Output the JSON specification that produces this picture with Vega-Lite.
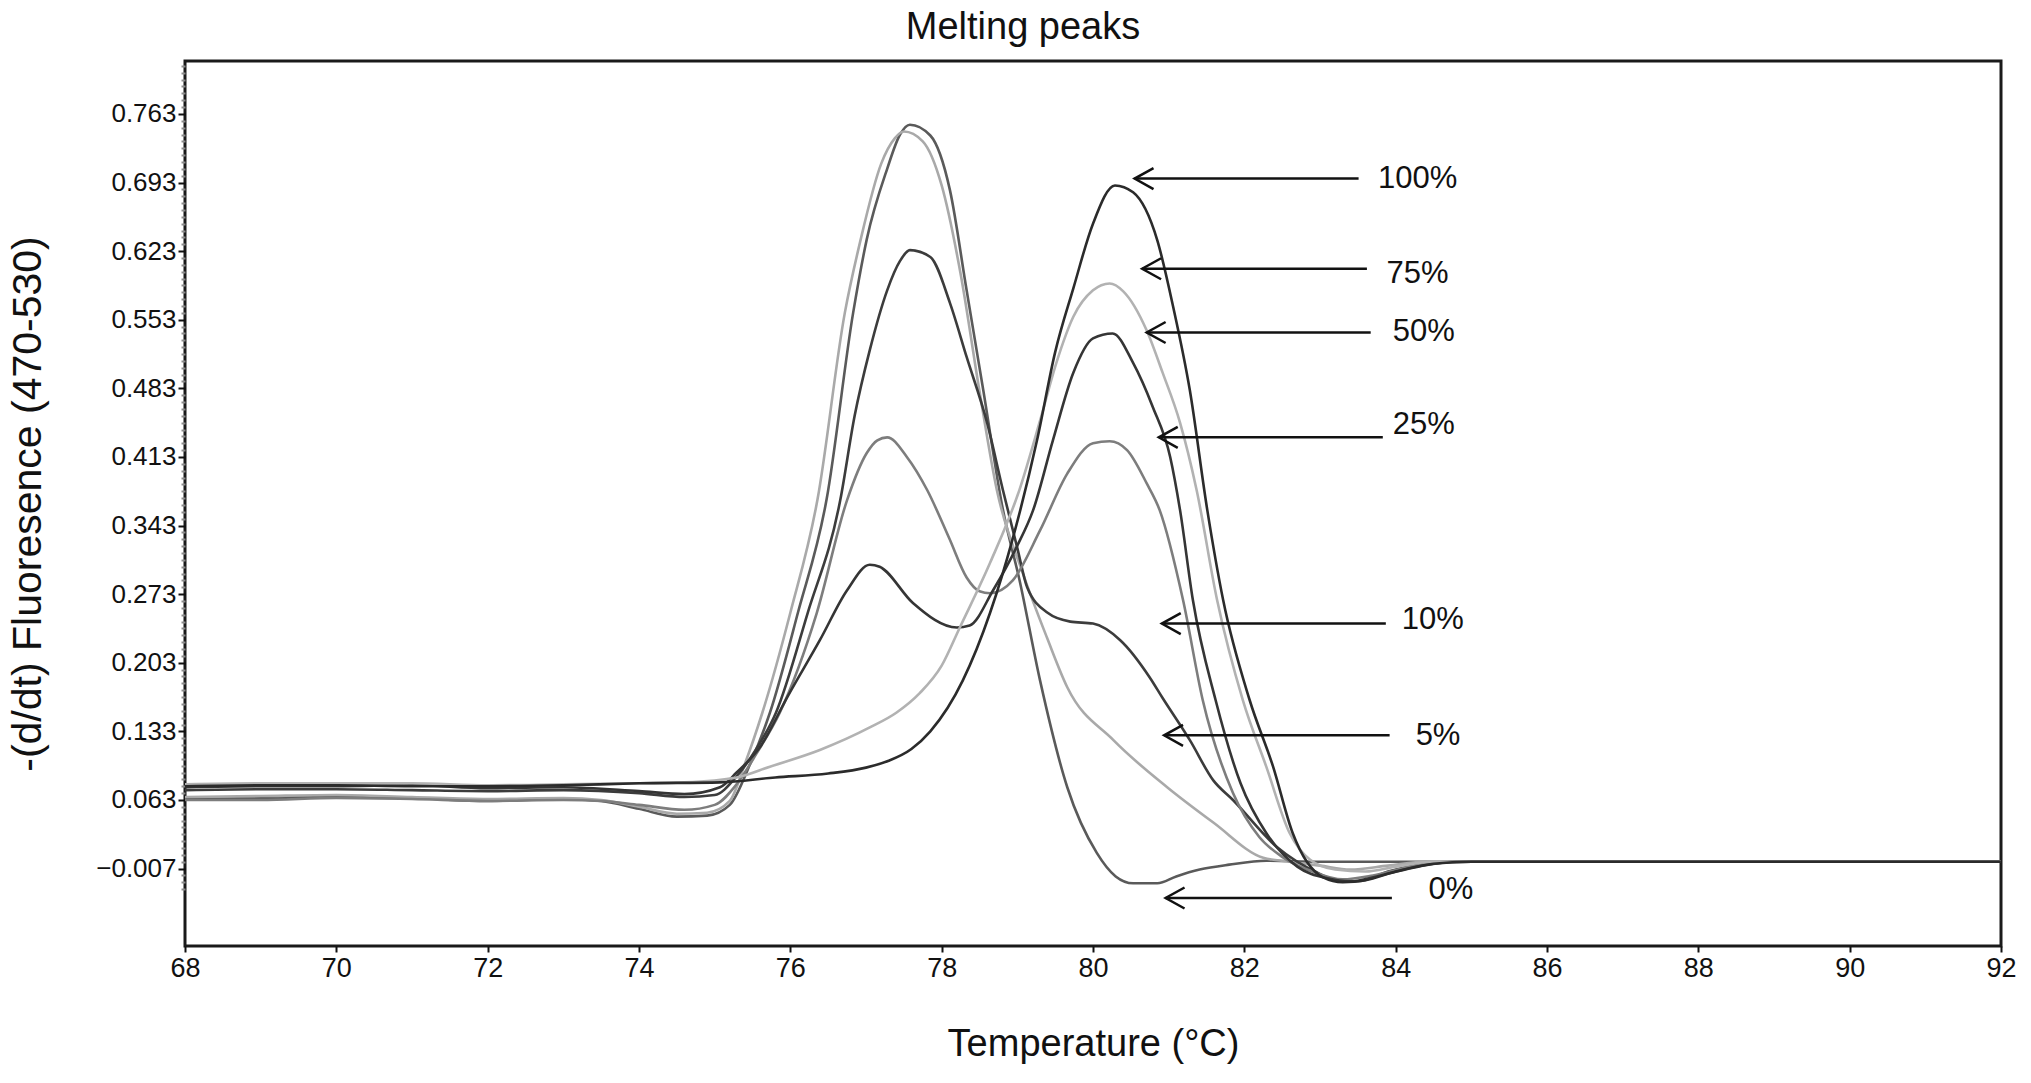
{
  "$schema": "https://vega.github.io/schema/vega-lite/v6.json",
  "width": 1816,
  "height": 885,
  "autosize": {"type": "none"},
  "padding": {"left": 185, "top": 61, "right": 30, "bottom": 137},
  "background": "white",
  "title": {
    "text": "Melting peaks",
    "font": "Liberation Sans",
    "fontSize": 38,
    "fontWeight": "normal",
    "color": "#111",
    "anchor": "middle",
    "dx": -70,
    "baseline": "middle",
    "offset": -5
  },
  "config": {
    "view": {"stroke": "#1a1a1a", "strokeWidth": 3},
    "font": "Liberation Sans"
  },
  "resolve": {"axis": {"y": "independent"}, "scale": {"y": "shared", "x": "shared"}},
  "datasets": {
    "curves": [
      {"s": "0%", "t": 68, "v": 0.064}, {"s": "0%", "t": 69, "v": 0.065}, {"s": "0%", "t": 70, "v": 0.066}, {"s": "0%", "t": 71, "v": 0.065},
      {"s": "0%", "t": 72, "v": 0.062}, {"s": "0%", "t": 73, "v": 0.064}, {"s": "0%", "t": 73.5, "v": 0.062}, {"s": "0%", "t": 74, "v": 0.054},
      {"s": "0%", "t": 74.5, "v": 0.046}, {"s": "0%", "t": 74.9, "v": 0.047}, {"s": "0%", "t": 75.2, "v": 0.058}, {"s": "0%", "t": 75.47, "v": 0.1},
      {"s": "0%", "t": 75.73, "v": 0.152}, {"s": "0%", "t": 76.1, "v": 0.254}, {"s": "0%", "t": 76.48, "v": 0.37}, {"s": "0%", "t": 76.83, "v": 0.56},
      {"s": "0%", "t": 77.01, "v": 0.635}, {"s": "0%", "t": 77.28, "v": 0.707}, {"s": "0%", "t": 77.45, "v": 0.742}, {"s": "0%", "t": 77.58, "v": 0.752},
      {"s": "0%", "t": 77.85, "v": 0.741}, {"s": "0%", "t": 78.11, "v": 0.685}, {"s": "0%", "t": 78.33, "v": 0.583}, {"s": "0%", "t": 78.55, "v": 0.481},
      {"s": "0%", "t": 78.81, "v": 0.359}, {"s": "0%", "t": 79.03, "v": 0.287}, {"s": "0%", "t": 79.3, "v": 0.185}, {"s": "0%", "t": 79.66, "v": 0.076},
      {"s": "0%", "t": 80.05, "v": 0.009}, {"s": "0%", "t": 80.3, "v": -0.015}, {"s": "0%", "t": 80.53, "v": -0.022}, {"s": "0%", "t": 80.85, "v": -0.022},
      {"s": "0%", "t": 81.1, "v": -0.015}, {"s": "0%", "t": 81.41, "v": -0.008}, {"s": "0%", "t": 81.8, "v": -0.003}, {"s": "0%", "t": 82.29, "v": 0.001},
      {"s": "0%", "t": 83, "v": 0.0}, {"s": "0%", "t": 84, "v": 0.0}, {"s": "0%", "t": 86, "v": 0.0}, {"s": "0%", "t": 88, "v": 0.0},
      {"s": "0%", "t": 90, "v": 0.0}, {"s": "0%", "t": 92, "v": 0.0},

      {"s": "5%", "t": 68, "v": 0.066}, {"s": "5%", "t": 69, "v": 0.067}, {"s": "5%", "t": 70, "v": 0.068}, {"s": "5%", "t": 71, "v": 0.066},
      {"s": "5%", "t": 72, "v": 0.064}, {"s": "5%", "t": 73, "v": 0.065}, {"s": "5%", "t": 73.5, "v": 0.063}, {"s": "5%", "t": 74, "v": 0.056},
      {"s": "5%", "t": 74.5, "v": 0.049}, {"s": "5%", "t": 74.9, "v": 0.05}, {"s": "5%", "t": 75.2, "v": 0.062}, {"s": "5%", "t": 75.4, "v": 0.1},
      {"s": "5%", "t": 75.63, "v": 0.152}, {"s": "5%", "t": 76.0, "v": 0.254}, {"s": "5%", "t": 76.36, "v": 0.37}, {"s": "5%", "t": 76.72, "v": 0.56},
      {"s": "5%", "t": 76.93, "v": 0.635}, {"s": "5%", "t": 77.2, "v": 0.712}, {"s": "5%", "t": 77.38, "v": 0.738}, {"s": "5%", "t": 77.5, "v": 0.745},
      {"s": "5%", "t": 77.75, "v": 0.735}, {"s": "5%", "t": 78.0, "v": 0.69}, {"s": "5%", "t": 78.25, "v": 0.6}, {"s": "5%", "t": 78.5, "v": 0.48},
      {"s": "5%", "t": 78.73, "v": 0.379}, {"s": "5%", "t": 79.07, "v": 0.295}, {"s": "5%", "t": 79.39, "v": 0.229}, {"s": "5%", "t": 79.66, "v": 0.178},
      {"s": "5%", "t": 80.27, "v": 0.124}, {"s": "5%", "t": 80.98, "v": 0.076}, {"s": "5%", "t": 81.59, "v": 0.04}, {"s": "5%", "t": 82.25, "v": 0.004},
      {"s": "5%", "t": 82.6, "v": 0.0}, {"s": "5%", "t": 83, "v": -0.004}, {"s": "5%", "t": 83.4, "v": -0.008}, {"s": "5%", "t": 83.9, "v": -0.004},
      {"s": "5%", "t": 84.4, "v": 0.0}, {"s": "5%", "t": 86, "v": 0.0}, {"s": "5%", "t": 92, "v": 0.0},

      {"s": "10%", "t": 68, "v": 0.073}, {"s": "10%", "t": 69, "v": 0.074}, {"s": "10%", "t": 70, "v": 0.074}, {"s": "10%", "t": 71, "v": 0.073},
      {"s": "10%", "t": 72, "v": 0.072}, {"s": "10%", "t": 73, "v": 0.073}, {"s": "10%", "t": 74, "v": 0.07}, {"s": "10%", "t": 74.6, "v": 0.066},
      {"s": "10%", "t": 75.0, "v": 0.068}, {"s": "10%", "t": 75.3, "v": 0.088}, {"s": "10%", "t": 75.55, "v": 0.115}, {"s": "10%", "t": 75.81, "v": 0.152},
      {"s": "10%", "t": 76.23, "v": 0.254}, {"s": "10%", "t": 76.66, "v": 0.369}, {"s": "10%", "t": 76.85, "v": 0.455}, {"s": "10%", "t": 77.05, "v": 0.522},
      {"s": "10%", "t": 77.28, "v": 0.583}, {"s": "10%", "t": 77.45, "v": 0.613}, {"s": "10%", "t": 77.58, "v": 0.624}, {"s": "10%", "t": 77.85, "v": 0.617},
      {"s": "10%", "t": 78.11, "v": 0.57}, {"s": "10%", "t": 78.33, "v": 0.515}, {"s": "10%", "t": 78.6, "v": 0.448}, {"s": "10%", "t": 78.81, "v": 0.379},
      {"s": "10%", "t": 79.0, "v": 0.32}, {"s": "10%", "t": 79.13, "v": 0.28}, {"s": "10%", "t": 79.4, "v": 0.254}, {"s": "10%", "t": 79.7, "v": 0.245},
      {"s": "10%", "t": 80.0, "v": 0.243}, {"s": "10%", "t": 80.36, "v": 0.226}, {"s": "10%", "t": 80.75, "v": 0.188}, {"s": "10%", "t": 80.92, "v": 0.167},
      {"s": "10%", "t": 81.28, "v": 0.124}, {"s": "10%", "t": 81.59, "v": 0.083}, {"s": "10%", "t": 81.85, "v": 0.063}, {"s": "10%", "t": 82.43, "v": 0.015},
      {"s": "10%", "t": 82.96, "v": -0.011}, {"s": "10%", "t": 83.22, "v": -0.019}, {"s": "10%", "t": 83.5, "v": -0.02}, {"s": "10%", "t": 83.9, "v": -0.01},
      {"s": "10%", "t": 84.4, "v": -0.002}, {"s": "10%", "t": 85, "v": 0.0}, {"s": "10%", "t": 92, "v": 0.0},

      {"s": "25%", "t": 68, "v": 0.063}, {"s": "25%", "t": 69, "v": 0.063}, {"s": "25%", "t": 70, "v": 0.065}, {"s": "25%", "t": 71, "v": 0.064},
      {"s": "25%", "t": 72, "v": 0.062}, {"s": "25%", "t": 73, "v": 0.063}, {"s": "25%", "t": 73.5, "v": 0.062}, {"s": "25%", "t": 74, "v": 0.058},
      {"s": "25%", "t": 74.6, "v": 0.053}, {"s": "25%", "t": 75.0, "v": 0.058}, {"s": "25%", "t": 75.3, "v": 0.08}, {"s": "25%", "t": 75.55, "v": 0.11},
      {"s": "25%", "t": 75.86, "v": 0.152}, {"s": "25%", "t": 76.35, "v": 0.254}, {"s": "25%", "t": 76.75, "v": 0.369}, {"s": "25%", "t": 77.01, "v": 0.417},
      {"s": "25%", "t": 77.15, "v": 0.43}, {"s": "25%", "t": 77.28, "v": 0.433}, {"s": "25%", "t": 77.54, "v": 0.413}, {"s": "25%", "t": 77.81, "v": 0.379},
      {"s": "25%", "t": 78.1, "v": 0.33}, {"s": "25%", "t": 78.33, "v": 0.29}, {"s": "25%", "t": 78.5, "v": 0.276}, {"s": "25%", "t": 78.64, "v": 0.274},
      {"s": "25%", "t": 78.94, "v": 0.287}, {"s": "25%", "t": 79.3, "v": 0.338}, {"s": "25%", "t": 79.66, "v": 0.396}, {"s": "25%", "t": 80.0, "v": 0.427},
      {"s": "25%", "t": 80.22, "v": 0.429}, {"s": "25%", "t": 80.45, "v": 0.42}, {"s": "25%", "t": 80.71, "v": 0.386}, {"s": "25%", "t": 80.88, "v": 0.359},
      {"s": "25%", "t": 81.19, "v": 0.267}, {"s": "25%", "t": 81.45, "v": 0.165}, {"s": "25%", "t": 81.85, "v": 0.07}, {"s": "25%", "t": 82.2, "v": 0.025},
      {"s": "25%", "t": 82.5, "v": 0.005}, {"s": "25%", "t": 82.9, "v": -0.01}, {"s": "25%", "t": 83.3, "v": -0.018}, {"s": "25%", "t": 83.7, "v": -0.014},
      {"s": "25%", "t": 84.2, "v": -0.005}, {"s": "25%", "t": 84.7, "v": 0.0}, {"s": "25%", "t": 92, "v": 0.0},

      {"s": "50%", "t": 68, "v": 0.076}, {"s": "50%", "t": 69, "v": 0.077}, {"s": "50%", "t": 70, "v": 0.077}, {"s": "50%", "t": 71, "v": 0.078},
      {"s": "50%", "t": 72, "v": 0.075}, {"s": "50%", "t": 73, "v": 0.076}, {"s": "50%", "t": 74, "v": 0.072}, {"s": "50%", "t": 74.6, "v": 0.069},
      {"s": "50%", "t": 75.07, "v": 0.076}, {"s": "50%", "t": 75.29, "v": 0.091}, {"s": "50%", "t": 75.6, "v": 0.117}, {"s": "50%", "t": 75.96, "v": 0.168},
      {"s": "50%", "t": 76.39, "v": 0.226}, {"s": "50%", "t": 76.75, "v": 0.277}, {"s": "50%", "t": 77.05, "v": 0.303}, {"s": "50%", "t": 77.18, "v": 0.301},
      {"s": "50%", "t": 77.62, "v": 0.264}, {"s": "50%", "t": 78.2, "v": 0.239}, {"s": "50%", "t": 78.37, "v": 0.241}, {"s": "50%", "t": 78.68, "v": 0.277},
      {"s": "50%", "t": 78.99, "v": 0.321}, {"s": "50%", "t": 79.21, "v": 0.359}, {"s": "50%", "t": 79.47, "v": 0.43}, {"s": "50%", "t": 79.74, "v": 0.499},
      {"s": "50%", "t": 80.0, "v": 0.534}, {"s": "50%", "t": 80.26, "v": 0.539}, {"s": "50%", "t": 80.53, "v": 0.509}, {"s": "50%", "t": 80.79, "v": 0.464},
      {"s": "50%", "t": 81.02, "v": 0.413}, {"s": "50%", "t": 81.15, "v": 0.359}, {"s": "50%", "t": 81.32, "v": 0.267}, {"s": "50%", "t": 81.62, "v": 0.165},
      {"s": "50%", "t": 81.95, "v": 0.08}, {"s": "50%", "t": 82.3, "v": 0.028}, {"s": "50%", "t": 82.7, "v": -0.005}, {"s": "50%", "t": 83.1, "v": -0.017},
      {"s": "50%", "t": 83.4, "v": -0.02}, {"s": "50%", "t": 83.8, "v": -0.014}, {"s": "50%", "t": 84.3, "v": -0.005}, {"s": "50%", "t": 84.8, "v": 0.0},
      {"s": "50%", "t": 92, "v": 0.0},

      {"s": "75%", "t": 68, "v": 0.079}, {"s": "75%", "t": 69, "v": 0.08}, {"s": "75%", "t": 70, "v": 0.08}, {"s": "75%", "t": 71, "v": 0.08},
      {"s": "75%", "t": 72, "v": 0.078}, {"s": "75%", "t": 73, "v": 0.079}, {"s": "75%", "t": 74, "v": 0.08}, {"s": "75%", "t": 74.6, "v": 0.081},
      {"s": "75%", "t": 75.29, "v": 0.086}, {"s": "75%", "t": 75.73, "v": 0.097}, {"s": "75%", "t": 76.39, "v": 0.114}, {"s": "75%", "t": 77.05, "v": 0.137},
      {"s": "75%", "t": 77.4, "v": 0.152}, {"s": "75%", "t": 77.71, "v": 0.172}, {"s": "75%", "t": 78.0, "v": 0.2}, {"s": "75%", "t": 78.24, "v": 0.239},
      {"s": "75%", "t": 78.64, "v": 0.305}, {"s": "75%", "t": 79.03, "v": 0.38}, {"s": "75%", "t": 79.3, "v": 0.45}, {"s": "75%", "t": 79.52, "v": 0.51},
      {"s": "75%", "t": 79.74, "v": 0.556}, {"s": "75%", "t": 80.0, "v": 0.583}, {"s": "75%", "t": 80.22, "v": 0.59}, {"s": "75%", "t": 80.4, "v": 0.582},
      {"s": "75%", "t": 80.71, "v": 0.542}, {"s": "75%", "t": 80.92, "v": 0.499}, {"s": "75%", "t": 81.15, "v": 0.448}, {"s": "75%", "t": 81.37, "v": 0.379},
      {"s": "75%", "t": 81.64, "v": 0.267}, {"s": "75%", "t": 81.98, "v": 0.165}, {"s": "75%", "t": 82.29, "v": 0.097}, {"s": "75%", "t": 82.6, "v": 0.029},
      {"s": "75%", "t": 82.87, "v": 0.002}, {"s": "75%", "t": 83.2, "v": -0.008}, {"s": "75%", "t": 83.6, "v": -0.01}, {"s": "75%", "t": 84.0, "v": -0.005},
      {"s": "75%", "t": 84.5, "v": 0.0}, {"s": "75%", "t": 92, "v": 0.0},

      {"s": "100%", "t": 68, "v": 0.077}, {"s": "100%", "t": 69, "v": 0.078}, {"s": "100%", "t": 70, "v": 0.078}, {"s": "100%", "t": 71, "v": 0.077},
      {"s": "100%", "t": 72, "v": 0.077}, {"s": "100%", "t": 73, "v": 0.078}, {"s": "100%", "t": 74, "v": 0.08}, {"s": "100%", "t": 75.07, "v": 0.081},
      {"s": "100%", "t": 75.8, "v": 0.086}, {"s": "100%", "t": 76.5, "v": 0.09}, {"s": "100%", "t": 77.0, "v": 0.096}, {"s": "100%", "t": 77.3, "v": 0.103},
      {"s": "100%", "t": 77.6, "v": 0.115}, {"s": "100%", "t": 77.85, "v": 0.133}, {"s": "100%", "t": 78.28, "v": 0.185}, {"s": "100%", "t": 78.64, "v": 0.254},
      {"s": "100%", "t": 78.94, "v": 0.33}, {"s": "100%", "t": 79.26, "v": 0.43}, {"s": "100%", "t": 79.5, "v": 0.52}, {"s": "100%", "t": 79.74, "v": 0.585},
      {"s": "100%", "t": 80.0, "v": 0.651}, {"s": "100%", "t": 80.29, "v": 0.69}, {"s": "100%", "t": 80.53, "v": 0.683}, {"s": "100%", "t": 80.85, "v": 0.634},
      {"s": "100%", "t": 81.06, "v": 0.566}, {"s": "100%", "t": 81.28, "v": 0.481}, {"s": "100%", "t": 81.51, "v": 0.359}, {"s": "100%", "t": 81.72, "v": 0.267},
      {"s": "100%", "t": 82.07, "v": 0.165}, {"s": "100%", "t": 82.38, "v": 0.097}, {"s": "100%", "t": 82.64, "v": 0.029}, {"s": "100%", "t": 83.04, "v": -0.016},
      {"s": "100%", "t": 83.3, "v": -0.021}, {"s": "100%", "t": 83.6, "v": -0.019}, {"s": "100%", "t": 84.0, "v": -0.01}, {"s": "100%", "t": 84.5, "v": -0.002},
      {"s": "100%", "t": 85, "v": 0.0}, {"s": "100%", "t": 92, "v": 0.0}
    ],
    "arrows": [
      {"label": "100%", "tip": 80.55, "end": 83.51, "ay": 0.697, "lx": 84.29, "ly": 0.697},
      {"label": "75%", "tip": 80.65, "end": 83.62, "ay": 0.605, "lx": 84.29, "ly": 0.6},
      {"label": "50%", "tip": 80.71, "end": 83.67, "ay": 0.54, "lx": 84.37, "ly": 0.54},
      {"label": "25%", "tip": 80.87, "end": 83.83, "ay": 0.433, "lx": 84.37, "ly": 0.446},
      {"label": "10%", "tip": 80.91, "end": 83.87, "ay": 0.243, "lx": 84.49, "ly": 0.247},
      {"label": "5%", "tip": 80.94, "end": 83.92, "ay": 0.129, "lx": 84.56, "ly": 0.128},
      {"label": "0%", "tip": 80.96, "end": 83.95, "ay": -0.037, "lx": 84.73, "ly": -0.029}
    ]
  },
  "layer": [
    {
      "data": {"name": "curves"},
      "mark": {"type": "line", "strokeWidth": 2.6, "interpolate": "monotone"},
      "encoding": {
        "x": {
          "field": "t",
          "type": "quantitative",
          "scale": {"domain": [68, 92], "nice": false, "zero": false},
          "axis": {
            "title": "Temperature (°C)",
            "values": [68, 70, 72, 74, 76, 78, 80, 82, 84, 86, 88, 90, 92],
            "format": "d",
            "domain": false,
            "grid": false,
            "tickSize": 6,
            "tickWidth": 2,
            "tickColor": "#111",
            "labelFont": "Liberation Sans",
            "labelFontSize": 27,
            "labelColor": "#111",
            "labelPadding": 3,
            "labelFlush": false,
            "labelOverlap": false,
            "titleFont": "Liberation Sans",
            "titleFontSize": 38,
            "titleFontWeight": "normal",
            "titleColor": "#111",
            "titleY": 98,
            "titleBaseline": "middle"
          }
        },
        "y": {
          "field": "v",
          "type": "quantitative",
          "scale": {"domain": [-0.086, 0.817], "nice": false, "zero": false},
          "axis": {
            "orient": "left",
            "title": "-(d/dt) Fluoresence (470-530)",
            "values": [-0.007, 0.063, 0.133, 0.203, 0.273, 0.343, 0.413, 0.483, 0.553, 0.623, 0.693, 0.763],
            "format": ".3f",
            "domain": false,
            "grid": false,
            "tickSize": 7,
            "tickColor": "#111",
            "tickWidth": 2,
            "labelFont": "Liberation Sans",
            "labelFontSize": 26,
            "labelColor": "#111",
            "labelPadding": 2,
            "labelFlush": false,
            "labelOverlap": false,
            "titleFont": "Liberation Sans",
            "titleFontSize": 41,
            "titleFontWeight": "normal",
            "titleColor": "#111",
            "titleX": -157,
            "titleBaseline": "middle"
          }
        },
        "color": {
          "field": "s",
          "type": "nominal",
          "scale": {
            "domain": ["0%", "5%", "10%", "25%", "50%", "75%", "100%"],
            "range": ["#5a5a5a", "#a9a9a9", "#3c3c3c", "#7d7d7d", "#353535", "#b2b2b2", "#2b2b2b"]
          },
          "legend": null
        }
      }
    },
    {
      "data": {"name": "arrows"},
      "mark": {"type": "point", "opacity": 0},
      "encoding": {
        "x": {"field": "tip", "type": "quantitative"},
        "y": {
          "field": "ay",
          "type": "quantitative",
          "axis": {
            "orient": "left",
            "title": null,
            "values": [-0.028, -0.021, -0.014, 0, 0.007, 0.014, 0.021, 0.028, 0.035, 0.042, 0.049, 0.056, 0.07, 0.077, 0.084, 0.091, 0.098, 0.105, 0.112, 0.119, 0.126, 0.14, 0.147, 0.154, 0.161, 0.168, 0.175, 0.182, 0.189, 0.196, 0.21, 0.217, 0.224, 0.231, 0.238, 0.245, 0.252, 0.259, 0.266, 0.28, 0.287, 0.294, 0.301, 0.308, 0.315, 0.322, 0.329, 0.336, 0.35, 0.357, 0.364, 0.371, 0.378, 0.385, 0.392, 0.399, 0.406, 0.42, 0.427, 0.434, 0.441, 0.448, 0.455, 0.462, 0.469, 0.476, 0.49, 0.497, 0.504, 0.511, 0.518, 0.525, 0.532, 0.539, 0.546, 0.56, 0.567, 0.574, 0.581, 0.588, 0.595, 0.602, 0.609, 0.616, 0.63, 0.637, 0.644, 0.651, 0.658, 0.665, 0.672, 0.679, 0.686, 0.7, 0.707, 0.714, 0.721, 0.728, 0.735, 0.742, 0.749, 0.756, 0.77, 0.777, 0.784, 0.791, 0.798, 0.805, 0.812],
            "domain": false,
            "grid": false,
            "labels": false,
            "tickSize": 4,
            "tickWidth": 2,
            "tickColor": "#8c8c8c"
          }
        }
      }
    },
    {
      "data": {"name": "arrows"},
      "mark": {"type": "rule", "stroke": "#111", "strokeWidth": 2.5},
      "encoding": {
        "x": {"field": "tip", "type": "quantitative"},
        "x2": {"field": "end"},
        "y": {"field": "ay", "type": "quantitative", "axis": null}
      }
    },
    {
      "data": {"name": "arrows"},
      "mark": {"type": "point", "shape": "M 1.8 -1 L 0 0 L 1.8 1", "filled": false, "stroke": "#111", "strokeWidth": 2.5, "size": 441, "opacity": 1},
      "encoding": {
        "x": {"field": "tip", "type": "quantitative"},
        "y": {"field": "ay", "type": "quantitative", "axis": null}
      }
    },
    {
      "data": {"name": "arrows"},
      "mark": {"type": "text", "font": "Liberation Sans", "fontSize": 31, "color": "#111", "align": "center", "baseline": "middle"},
      "encoding": {
        "x": {"field": "lx", "type": "quantitative"},
        "y": {"field": "ly", "type": "quantitative", "axis": null},
        "text": {"field": "label"}
      }
    }
  ]
}
